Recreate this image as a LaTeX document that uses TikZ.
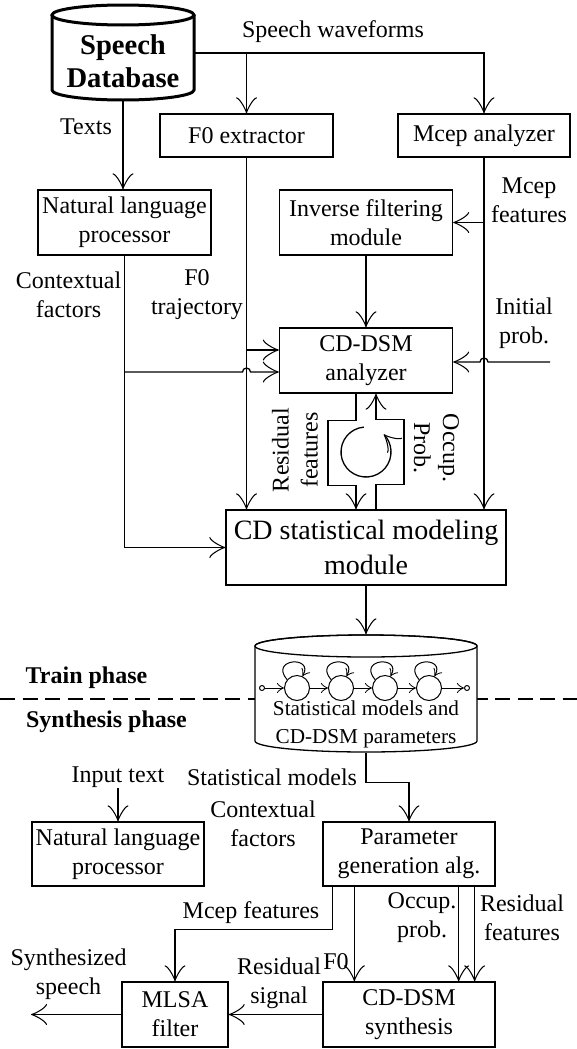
\documentclass[tikz,border=0pt]{standalone}
\usepackage{fontspec}
\setmainfont{Liberation Serif}
\usetikzlibrary{arrows.meta,calc}

\begin{document}
\begin{tikzpicture}[x=0.5pt, y=0.5pt, line width=0.65pt,
  font=\fontsize{12}{14.5}\selectfont,
  >={Classical TikZ Rightarrow[length=8pt,width=10.5pt]},
  blk/.style={draw, inner sep=0pt, align=center},
  lbl/.style={inner sep=0pt, align=center},
  hmm/.style={->, >={Classical TikZ Rightarrow[length=3.5pt,width=5pt]}, line width=0.5pt},
  state/.style={draw, circle, minimum size=12.5pt, inner sep=0pt, line width=0.5pt}]
\useasboundingbox (0,0) rectangle (577,-1049);
%
\draw[line width=1.5pt] (52,-15) -- (52,-90) arc[start angle=180, end angle=360, x radius=71, y radius=10] -- (194,-15);
\draw[line width=1.5pt] (123,-15) ellipse[x radius=71, y radius=10];
\draw (123,-61.5) node[inner sep=0pt, minimum width=71pt, minimum height=38.5pt, align=center,
  font=\bfseries\fontsize{14.3}{16.5}\selectfont](sdb){Speech\\Database};
%
\draw (246.5,-135.5) node[blk, minimum width=86.5pt, minimum height=21.5pt](f0){F0 extractor};
\draw (484,-135.5) node[blk, minimum width=86pt, minimum height=21.5pt](mcep){Mcep analyzer};
\draw (124.5,-222.5) node[blk, minimum width=86.5pt, minimum height=32.5pt](nlp){Natural language\\processor};
\draw (366,-222.5) node[blk, minimum width=86.5pt, minimum height=32.5pt](inv){Inverse filtering\\module};
\draw (366,-360.5) node[blk, minimum width=86.5pt, minimum height=32.5pt](an){CD-DSM\\analyzer};
\draw (366,-547.5) node[blk, minimum width=140pt, minimum height=37.5pt,
  font=\fontsize{14}{17.5}\selectfont](stat){CD statistical modeling\\module};
%
\coordinate (wf) at ([yshift=4.25pt]sdb.east);
\draw[->] (wf) -| (mcep.north);
\draw[->] (wf -| f0.north) -- (f0.north);
\draw (333,-32) node[lbl](wflbl){Speech waveforms};
\draw[->] (sdb.south) -- (sdb.south |- nlp.north);
\draw (86,-127) node[lbl](txtlbl){Texts};
%
\draw[->] (mcep.south) -- (mcep.south |- stat.north);
\draw[->] (inv.east -| mcep.south) -- (inv.east);
\draw (529,-200) node[lbl](mceplbl){Mcep\\features};
\draw[->] (inv.south) -- (an.north);
%
\coordinate (f0in) at ([yshift=5.25pt]an.west);
\draw[->] (f0.south) -- (f0.south |- stat.north);
\draw[->] (f0in -| f0.south) -- (f0in);
\draw (197,-295) node[lbl](f0lbl){F0\\trajectory};
%
\coordinate (ctxin) at ([yshift=-5.75pt]an.west);
\draw[->] (nlp.south) |- (stat.west);
\draw[->] (ctxin -| nlp.south) -- ($(ctxin -| f0.south)+(-4,0)$) arc[start angle=180, end angle=0, radius=4] -- (ctxin);
\draw (68.5,-295) node[lbl](ctxlbl){Contextual\\factors};
%
\coordinate (ipin) at ([yshift=-0.75pt]an.east);
\coordinate (ip) at (550,-362);
\draw[->] (ip) -- ($(ipin -| mcep.south)+(4,0)$) arc[start angle=0, end angle=180, radius=4] -- (ipin);
\draw (524,-323) node[lbl](iplbl){Initial\\prob.};
%
\draw[->] ([xshift=-5pt]an.south) -- ++(0,-27) -- ++(-28,0) -- ++(0,-65) -- ++(28,0) -- ([xshift=-5pt]stat.north);
\draw[->] ([xshift=5pt]stat.north) -- ++(0,25) -- ++(28,0) -- ++(0,65) -- ++(-28,0) -- ([xshift=5pt]an.south);
\draw[->] (366,-452) ++(95:25) arc[start angle=95, end angle=405, radius=25];
\draw (295,-450) node[lbl, rotate=90](reslbl){Residual\\features};
\draw (436.5,-448) node[lbl, rotate=-90](occlbl){Occup.\\Prob.};
%
\draw[dash pattern=on 7.5pt off 3.75pt, line width=0.6pt] (0,-699) -- (577,-699);
\draw (86.5,-678) node[lbl, font=\bfseries\fontsize{12}{14.5}\selectfont](trlbl){Train phase};
\draw (106.5,-722) node[lbl, font=\bfseries\fontsize{12}{14.5}\selectfont](synlbl){Synthesis phase};
%
\filldraw[fill=white] (255,-646) -- (255,-741) arc[start angle=180, end angle=360, x radius=111, y radius=11]
  -- (477,-646) arc[start angle=0, end angle=180, x radius=111, y radius=11] -- cycle;
\draw (366,-646) ellipse[x radius=111, y radius=11];
\draw (366,-693.5) node[inner sep=0pt, minimum width=111pt, minimum height=58.5pt](smdb){};
\draw[->] (stat.south) -- (smdb.north);
\foreach \i/\x in {1/297,2/341,3/385,4/429}
  \draw (\x,-688) node[state](s\i){};
\draw (262,-688) node[draw, circle, minimum size=2.5pt, inner sep=0pt, line width=0.5pt](hin){};
\draw (467,-688) node[draw, circle, minimum size=2.5pt, inner sep=0pt, line width=0.5pt](hout){};
\draw[hmm] (hin) -- (s1);
\draw[hmm] (s1) -- (s2);
\draw[hmm] (s2) -- (s3);
\draw[hmm] (s3) -- (s4);
\draw[hmm] (s4) -- (hout);
\foreach \i in {1,...,4}
  \draw[hmm] (s\i.140) .. controls +(130:14pt) and +(60:12pt) .. (s\i.65);
\draw (366,-724) node[lbl, font=\fontsize{10.6}{14}\selectfont](smtxt){Statistical models and\\CD-DSM parameters};
%
\draw (409,-854) node[blk, minimum width=86pt, minimum height=32pt](pg){Parameter\\generation alg.};
\draw (118,-854) node[blk, minimum width=86pt, minimum height=32pt](nlp2){Natural language\\processor};
\draw (409,-1014.5) node[blk, minimum width=86pt, minimum height=32.5pt](ds){CD-DSM\\synthesis};
\draw (175,-1014.5) node[blk, minimum width=53pt, minimum height=32.5pt](mlsa){MLSA\\filter};
%
\draw[->] (smdb.south) -- ++(0,-30) -| (pg.north);
\draw (272,-777) node[lbl](smlbl){Statistical models};
\draw (118,-777) node[lbl](intxt){Input text};
\draw[->] (intxt.south) -- (nlp2.north);
\draw (263,-823.5) node[lbl](ctxlbl2){Contextual\\factors};
%
\draw[->] ([xshift=5pt]pg.south west) -- ++(0,-43) -| (mlsa.north);
\draw (251,-913) node[lbl](mceplbl2){Mcep features};
\draw[->] ([xshift=16pt]pg.south west) -- ([xshift=16pt]ds.north west);
\draw (336,-962) node[lbl](f0lbl2){F0};
\draw[->] ([xshift=-18.5pt]pg.south east) -- ([xshift=-18.5pt]ds.north east);
\draw (422,-918) node[lbl](occlbl2){Occup.\\prob.};
\draw[->] ([xshift=-10.5pt]pg.south east) -- ([xshift=-10.5pt]ds.north east);
\draw (522,-918) node[lbl](reslbl2){Residual\\features};
%
\draw[->] (ds.west) -- (mlsa.east);
\draw (279,-983) node[lbl](rslbl){Residual\\signal};
\coordinate (spout) at (31,-1014.5);
\draw[->] (mlsa.west) -- (spout);
\draw (68.5,-974) node[lbl](outlbl){Synthesized\\speech};
\end{tikzpicture}
\end{document}
